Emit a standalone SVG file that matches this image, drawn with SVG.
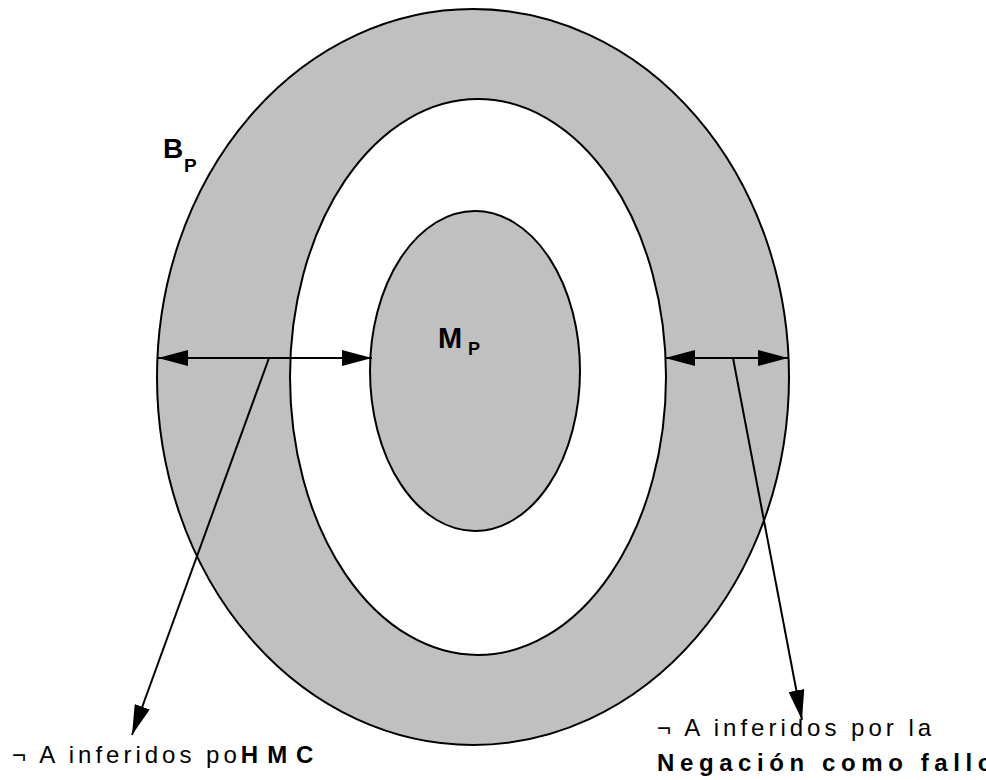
<svg xmlns="http://www.w3.org/2000/svg" width="986" height="780" viewBox="0 0 986 780">
<style>
.ring{fill:#c0c0c0;stroke:#000;stroke-width:2}
.hole{fill:#fff;stroke:#000;stroke-width:2}
.ln{stroke:#000;stroke-width:2;fill:none}
.lbl{font-family:"Liberation Sans",Arial,sans-serif;font-weight:bold;fill:#000}
.t{font-family:"Liberation Sans",Arial,sans-serif;font-size:24px;letter-spacing:4px;fill:#000}
.tb{font-weight:bold;letter-spacing:5.6px}
.hmc{font-weight:bold;letter-spacing:9px}
</style>
<defs>
<marker id="ah" viewBox="0 0 30 16" refX="30" refY="8" markerWidth="30" markerHeight="16" markerUnits="userSpaceOnUse" orient="auto-start-reverse">
<path d="M0,0 L30,8 L0,16 Z" fill="#000"/>
</marker>
</defs>
<g id="outer"><ellipse class="ring" cx="473" cy="377" rx="316" ry="368"/></g>
<g id="middle"><ellipse class="hole" cx="478" cy="377" rx="188" ry="278"/></g>
<g id="inner"><ellipse class="ring" cx="475" cy="371" rx="105" ry="160"/></g>
<g id="BP"><text class="lbl" x="163" y="158" font-size="28">B</text><text class="lbl" x="184" y="172" font-size="19">P</text></g>
<g id="MP"><text class="lbl" x="438" y="348" font-size="29">M</text><text class="lbl" x="468" y="355" font-size="18">P</text></g>
<g id="connectors">
<line class="ln" x1="158" y1="358" x2="372" y2="358" marker-start="url(#ah)" marker-end="url(#ah)"/>
<line class="ln" x1="665" y1="358" x2="788" y2="358" marker-start="url(#ah)" marker-end="url(#ah)"/>
<line class="ln" x1="269" y1="358" x2="132" y2="735" marker-end="url(#ah)"/>
<line class="ln" x1="733" y1="358" x2="802" y2="720" marker-end="url(#ah)"/>
</g>
<g id="label-hmc"><text class="t" x="12" y="763">¬ A inferidos po<tspan class="hmc">HMC</tspan></text></g>
<g id="label-naf"><text class="t" x="657" y="736">¬ A inferidos por la</text><text class="t tb" x="657" y="771">Negación como fallo</text></g>
</svg>
